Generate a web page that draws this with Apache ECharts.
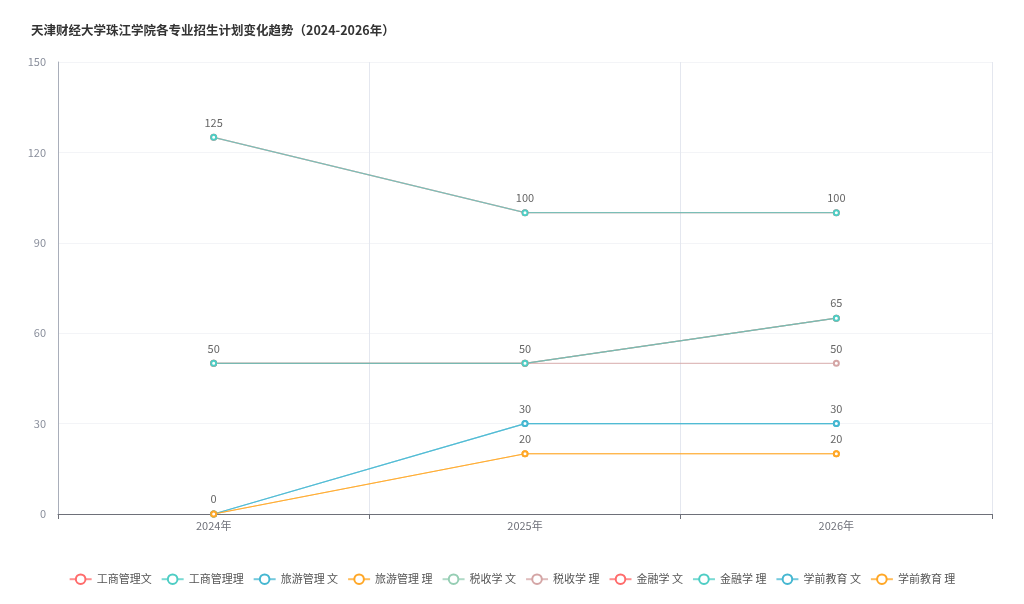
<!DOCTYPE html>
<html>
<head>
<meta charset="utf-8">
<script src="https://cdn.jsdelivr.net/npm/echarts@6/dist/echarts.min.js"></script>
<style>
  html, body { margin: 0; padding: 0; background: #fff; }
  #main { width: 1024px; height: 604px; }
</style>
</head>
<body>
<div id="main"></div>
<script>
let years = ['2024年', '2025年', '2026年']
let majors = ['工商管理文', '工商管理理', '旅游管理 文', '旅游管理 理', '税收学 文', '税收学 理', '金融学 文', '金融学 理', '学前教育 文', '学前教育 理']

let gsglWen = [125, 100, 100]
let gsglLi = [125, 100, 100]
let lyglWen = [0, 30, 30]
let lyglLi = [0, 20, 20]
let sswWen = [50, 50, 65]
let sswLi = [50, 50, 50]
let jrxWen = [50, 50, 65]
let jrxLi = [50, 50, 65]
let xqjyWen = [0, 30, 30]
let xqjyLi = [0, 20, 20]

let seriesData = [gsglWen, gsglLi, lyglWen, lyglLi, sswWen, sswLi, jrxWen, jrxLi, xqjyWen, xqjyLi]
let yTicks = [0, 30, 60, 90, 120, 150]

let chart = echarts.init(document.getElementById('main'))

let option = {
  color: ['#FF6B6B', '#4ECDC4', '#45B7D1', '#FFA726', '#96CEB4', '#D4A5A5'],
  textStyle: {
    fontFamily: '"Noto Sans CJK SC", "Noto Sans", sans-serif'
  },
  title: {
    text: '天津财经大学珠江学院各专业招生计划变化趋势（2024-2026年）',
    left: 26,
    top: 19,
    textStyle: {
      fontSize: 12.5,
      fontWeight: 'bold',
      color: '#333'
    }
  },
  legend: {
    data: majors,
    bottom: 14,
    left: 'center',
    itemWidth: 22,
    itemHeight: 12,
    itemGap: 9,
    textStyle: {
      fontSize: 11,
      color: '#555'
    }
  },
  grid: {
    left: 58,
    right: 32,
    top: 62,
    bottom: 90
  },
  xAxis: {
    type: 'category',
    boundaryGap: true,
    data: years,
    axisLine: {
      lineStyle: { color: '#6E7079' }
    },
    axisTick: {
      show: true,
      lineStyle: { color: '#6E7079' }
    },
    splitLine: {
      show: true,
      lineStyle: { color: '#E4E7EF' }
    },
    axisLabel: {
      color: '#6E7079',
      fontSize: 11,
      margin: 6
    }
  },
  yAxis: {
    type: 'value',
    min: yTicks[0],
    max: yTicks[yTicks.length - 1],
    interval: 30,
    axisLine: {
      show: true,
      lineStyle: { color: '#A9AEBA' }
    },
    axisTick: { show: false },
    splitLine: {
      show: true,
      lineStyle: { color: '#F3F4F7' }
    },
    axisLabel: {
      color: '#8A8F9C',
      fontSize: 11,
      margin: 12
    }
  },
  series: seriesData.map((d, i) => ({
    name: majors[i],
    type: 'line',
    data: d,
    symbol: 'emptyCircle',
    symbolSize: 5,
    lineStyle: { width: 1.2, opacity: 0.75 },
    label: {
      show: true,
      position: 'top',
      fontSize: 11,
      color: '#666',
      distance: 6
    },
    labelLayout: { hideOverlap: true }
  }))
}

chart.setOption(option)
</script>
</body>
</html>
